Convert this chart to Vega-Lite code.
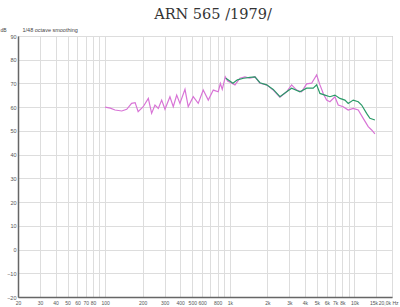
{
  "$schema": "https://vega.github.io/schema/vega-lite/v6.json",
  "width": 374,
  "height": 261,
  "autosize": "none",
  "padding": {"top": 36, "left": 18, "right": 8, "bottom": 10},
  "background": "white",
  "title": {
    "text": "ARN 565 /1979/",
    "font": "DejaVu Serif",
    "fontSize": 14.5,
    "fontWeight": "normal",
    "color": "#333333",
    "anchor": "middle",
    "baseline": "alphabetic",
    "dx": 8,
    "offset": -6
  },
  "config": {
    "view": {"stroke": "#aaaaaa", "strokeWidth": 1},
    "axis": {
      "labelFont": "Liberation Sans",
      "titleFont": "Liberation Sans",
      "labelFontSize": 5.5,
      "labelColor": "#555555",
      "gridColor": "#dddddd",
      "gridWidth": 1,
      "domainColor": "#666666",
      "domainWidth": 1.5,
      "ticks": false,
      "labelOverlap": false,
      "labelBound": false,
      "labelFlush": false
    }
  },
  "data": {
    "values": [
      {"f": 100, "db": 60.0, "s": "1979"},
      {"f": 110, "db": 59.6, "s": "1979"},
      {"f": 120, "db": 58.8, "s": "1979"},
      {"f": 136, "db": 58.4, "s": "1979"},
      {"f": 149, "db": 59.1, "s": "1979"},
      {"f": 163, "db": 61.6, "s": "1979"},
      {"f": 174, "db": 61.9, "s": "1979"},
      {"f": 184, "db": 58.1, "s": "1979"},
      {"f": 202, "db": 60.2, "s": "1979"},
      {"f": 222, "db": 63.7, "s": "1979"},
      {"f": 236, "db": 57.4, "s": "1979"},
      {"f": 251, "db": 60.9, "s": "1979"},
      {"f": 267, "db": 59.5, "s": "1979"},
      {"f": 284, "db": 63.0, "s": "1979"},
      {"f": 302, "db": 59.1, "s": "1979"},
      {"f": 331, "db": 64.4, "s": "1979"},
      {"f": 352, "db": 60.2, "s": "1979"},
      {"f": 375, "db": 65.1, "s": "1979"},
      {"f": 398, "db": 61.6, "s": "1979"},
      {"f": 437, "db": 67.5, "s": "1979"},
      {"f": 464, "db": 60.2, "s": "1979"},
      {"f": 509, "db": 64.4, "s": "1979"},
      {"f": 558, "db": 61.6, "s": "1979"},
      {"f": 612, "db": 67.2, "s": "1979"},
      {"f": 672, "db": 63.0, "s": "1979"},
      {"f": 737, "db": 67.2, "s": "1979"},
      {"f": 808, "db": 66.5, "s": "1979"},
      {"f": 840, "db": 70.0, "s": "1979"},
      {"f": 870, "db": 67.5, "s": "1979"},
      {"f": 920, "db": 72.8, "s": "1979"},
      {"f": 960, "db": 71.0, "s": "1979"},
      {"f": 1002, "db": 70.5, "s": "1979"},
      {"f": 1100, "db": 69.4, "s": "1979"},
      {"f": 1206, "db": 72.2, "s": "1979"},
      {"f": 1323, "db": 72.8, "s": "1979"},
      {"f": 1451, "db": 72.2, "s": "1979"},
      {"f": 1591, "db": 72.8, "s": "1979"},
      {"f": 1745, "db": 70.1, "s": "1979"},
      {"f": 1974, "db": 69.4, "s": "1979"},
      {"f": 2230, "db": 67.2, "s": "1979"},
      {"f": 2524, "db": 64.2, "s": "1979"},
      {"f": 2856, "db": 66.5, "s": "1979"},
      {"f": 3132, "db": 69.4, "s": "1979"},
      {"f": 3436, "db": 67.2, "s": "1979"},
      {"f": 3768, "db": 66.5, "s": "1979"},
      {"f": 4133, "db": 69.8, "s": "1979"},
      {"f": 4533, "db": 70.1, "s": "1979"},
      {"f": 4972, "db": 73.6, "s": "1979"},
      {"f": 5285, "db": 69.4, "s": "1979"},
      {"f": 5617, "db": 65.8, "s": "1979"},
      {"f": 5977, "db": 63.0, "s": "1979"},
      {"f": 6354, "db": 62.3, "s": "1979"},
      {"f": 6969, "db": 64.4, "s": "1979"},
      {"f": 7406, "db": 60.9, "s": "1979"},
      {"f": 8122, "db": 60.2, "s": "1979"},
      {"f": 8910, "db": 58.8, "s": "1979"},
      {"f": 9772, "db": 59.5, "s": "1979"},
      {"f": 10716, "db": 58.8, "s": "1979"},
      {"f": 11754, "db": 55.3, "s": "1979"},
      {"f": 12889, "db": 51.8, "s": "1979"},
      {"f": 13727, "db": 50.4, "s": "1979"},
      {"f": 14589, "db": 48.7, "s": "1979"},
      {"f": 930, "db": 72.2, "s": "new"},
      {"f": 1060, "db": 70.1, "s": "new"},
      {"f": 1150, "db": 71.5, "s": "new"},
      {"f": 1290, "db": 72.2, "s": "new"},
      {"f": 1451, "db": 72.6, "s": "new"},
      {"f": 1591, "db": 72.8, "s": "new"},
      {"f": 1745, "db": 70.3, "s": "new"},
      {"f": 1974, "db": 69.4, "s": "new"},
      {"f": 2230, "db": 67.5, "s": "new"},
      {"f": 2524, "db": 64.4, "s": "new"},
      {"f": 2856, "db": 66.5, "s": "new"},
      {"f": 3132, "db": 68.0, "s": "new"},
      {"f": 3652, "db": 66.5, "s": "new"},
      {"f": 4133, "db": 68.0, "s": "new"},
      {"f": 4667, "db": 68.0, "s": "new"},
      {"f": 4972, "db": 69.4, "s": "new"},
      {"f": 5285, "db": 65.8, "s": "new"},
      {"f": 5794, "db": 65.1, "s": "new"},
      {"f": 6354, "db": 64.4, "s": "new"},
      {"f": 6969, "db": 65.1, "s": "new"},
      {"f": 7641, "db": 63.7, "s": "new"},
      {"f": 8382, "db": 63.0, "s": "new"},
      {"f": 8910, "db": 61.6, "s": "new"},
      {"f": 9772, "db": 63.0, "s": "new"},
      {"f": 10716, "db": 62.3, "s": "new"},
      {"f": 11413, "db": 60.9, "s": "new"},
      {"f": 12515, "db": 57.4, "s": "new"},
      {"f": 13303, "db": 55.3, "s": "new"},
      {"f": 14589, "db": 54.6, "s": "new"}
    ]
  },
  "encoding": {
    "y": {
      "field": "db",
      "type": "quantitative",
      "scale": {"domain": [-20, 90], "nice": false, "zero": false},
      "axis": {
        "values": [-20, -10, 0, 10, 20, 30, 40, 50, 60, 70, 80, 90],
        "title": "dB",
        "titleAngle": 0,
        "titleAlign": "left",
        "titleBaseline": "alphabetic",
        "titleX": -18,
        "titleY": -5,
        "titleFontSize": 5,
        "titleFontWeight": "normal",
        "titleColor": "#444444",
        "labelPadding": 2
      }
    },
    "color": {
      "field": "s",
      "type": "nominal",
      "scale": {"domain": ["1979", "new"], "range": ["#d874d6", "#2a9a68"]},
      "legend": null
    }
  },
  "layer": [
    {
      "transform": [{"filter": "datum.s == '1979'"}],
      "mark": {"type": "line", "strokeWidth": 1.2, "clip": true},
      "encoding": {
        "x": {
          "field": "f",
          "type": "quantitative",
          "scale": {"type": "log", "domain": [20, 20000], "nice": false},
          "axis": {
            "orient": "bottom",
            "title": null,
            "values": [20, 30, 40, 50, 60, 70, 80, 90, 100, 200, 300, 400, 500, 600, 700, 800, 900, 1000, 2000, 3000, 4000, 5000, 6000, 7000, 8000, 9000, 10000, 15000, 20000],
            "labelExpr": "indexof([20,30,40,50,60,70,80,100,200,300,400,500,600,800,1000,2000,3000,4000,5000,6000,7000,8000,10000,15000], datum.value) >= 0 ? (datum.value < 1000 ? '' + datum.value : (datum.value / 1000) + 'k') : (datum.value == 20000 ? '20,0k Hz' : '')",
            "labelFontSize": 5,
            "labelAlign": {"condition": {"test": "datum.value == 20000", "value": "right"}, "value": "center"},
            "labelOffset": {"condition": [{"test": "datum.value == 15000", "value": -3}, {"test": "datum.value == 20000", "value": 6}], "value": 0},
            "labelPadding": 3
          }
        }
      }
    },
    {
      "transform": [{"filter": "datum.s == 'new'"}],
      "mark": {"type": "line", "strokeWidth": 1.2, "clip": true},
      "encoding": {
        "x": {
          "field": "f",
          "type": "quantitative",
          "scale": {"type": "log", "domain": [20, 20000], "nice": false},
          "axis": {
            "orient": "top",
            "title": "1/48 octave smoothing",
            "labels": false,
            "domain": false,
            "grid": false,
            "titleAnchor": "start",
            "titleAlign": "left",
            "titleBaseline": "alphabetic",
            "titleX": 4,
            "titleY": -5,
            "titleFontSize": 5.5,
            "titleFontWeight": "normal",
            "titleColor": "#444444"
          }
        }
      }
    }
  ],
  "resolve": {"axis": {"x": "independent"}}
}
